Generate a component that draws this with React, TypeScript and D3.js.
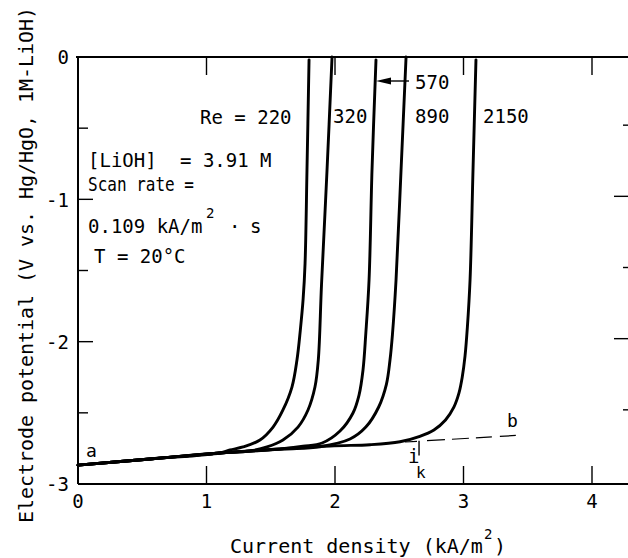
import React from "react";
import * as d3 from "d3";

// ---- data ----
type Pt = [number, number];

const xTicks = [0, 1, 2, 3, 4];
const xTickLabels = ["0", "1", "2", "3", "4"];
const yMajorTicks = [0, -1, -2, -3];
const yTickLabels = ["0", "-1", "-2", "-3"];
const yMinorTicks = [-0.5, -1.5, -2.5];
const yInnerTicks = [-0.5, -1, -1.5, -2, -2.5];

const re220: Pt[] = [
  [0, -2.867], [0.56, -2.824], [1.105, -2.782], [1.183, -2.761], [1.284, -2.74],
  [1.416, -2.691], [1.518, -2.6], [1.595, -2.48], [1.665, -2.319], [1.704, -2.129],
  [1.73, -1.92], [1.752, -1.7], [1.767, -1.45], [1.782, -0.794], [1.798, -0.02],
];
const re320: Pt[] = [
  [0, -2.867], [0.56, -2.824], [1.105, -2.782], [1.339, -2.768], [1.471, -2.74],
  [1.595, -2.691], [1.712, -2.6], [1.79, -2.48], [1.844, -2.319], [1.87, -2.129],
  [1.895, -1.6], [1.938, -0.794], [1.977, 0],
];
const re570: Pt[] = [
  [0, -2.867], [0.56, -2.824], [1.105, -2.782], [1.572, -2.754], [1.751, -2.735],
  [1.9, -2.712], [2.039, -2.628], [2.14, -2.501], [2.187, -2.375], [2.218, -2.199],
  [2.24, -1.939], [2.265, -1.567], [2.288, -0.794], [2.319, -0.02],
];
const re890: Pt[] = [
  [0, -2.867], [0.56, -2.824], [1.105, -2.782], [1.6, -2.755], [1.883, -2.738],
  [2.117, -2.684], [2.24, -2.6], [2.34, -2.459], [2.4, -2.3], [2.428, -2.129],
  [2.447, -1.95], [2.475, -1.567], [2.514, -0.794], [2.553, 0],
];
const re2150: Pt[] = [
  [0, -2.867], [0.56, -2.824], [1.105, -2.782], [1.961, -2.733], [2.272, -2.724],
  [2.506, -2.703], [2.66, -2.665], [2.77, -2.62], [2.86, -2.55], [2.925, -2.46],
  [2.965, -2.36], [2.99, -2.25], [3.012, -2.1], [3.03, -1.9], [3.051, -1.567],
  [3.074, -0.794], [3.097, -0.02],
];
const seriesList = [re220, re320, re570, re890, re2150];

const lineB: Pt[] = [[2.545, -2.705], [3.463, -2.656]];
const ikValue = 2.654;
const ikRange: Pt = [-2.71, -2.8];

// ---- layout ----
const W = 628;
const H = 558;
const x = d3.scaleLinear().domain([0, 4]).range([78, 592]);
const y = d3.scaleLinear().domain([0, -3]).range([57, 484]);
const rightX = 633;
const rightEdge = 628;

const FONT = "'DejaVu Sans Mono', monospace";

export default function App() {
  const line = d3
    .line<Pt>()
    .x((d) => x(d[0]))
    .y((d) => y(d[1]))
    .curve(d3.curveCatmullRom.alpha(0.5));
  const straight = d3
    .line<Pt>()
    .x((d) => x(d[0]))
    .y((d) => y(d[1]));

  const x0 = x(0);
  const yTop = y(0);
  const yBot = y(-3);

  return (
    <svg
      width={W}
      height={H}
      style={{ position: "absolute", left: 0, top: 0, background: "#fff" }}
      fontFamily={FONT}
    >
      <rect x={0} y={0} width={W} height={H} fill="#fff" />
      {/* frame */}
      <line x1={x0 - 2} x2={rightEdge} y1={yTop} y2={yTop} stroke="#000" strokeWidth={2} />
      <line x1={x0} x2={x0} y1={yTop} y2={yBot} stroke="#000" strokeWidth={2} />
      <line x1={x0} x2={rightEdge} y1={yBot} y2={yBot} stroke="#000" strokeWidth={2} />

      {/* x ticks top & bottom */}
      {xTicks.filter((t) => t > 0).map((t) => (
        <g key={"xt" + t}>
          <line x1={x(t)} x2={x(t)} y1={yTop} y2={yTop + 18} stroke="#000" strokeWidth={1.4} />
          <line x1={x(t)} x2={x(t)} y1={yBot} y2={yBot - 18} stroke="#000" strokeWidth={1.4} />
        </g>
      ))}
      {xTicks.map((t, i) => (
        <text key={"xl" + t} x={x(t)} y={508} fontSize={19} textAnchor="middle">
          {xTickLabels[i]}
        </text>
      ))}

      {/* y ticks left & right */}
      {yInnerTicks.map((t) => {
        const minor = yMinorTicks.includes(t);
        return (
          <g key={"yt" + t}>
            <line x1={x0} x2={x0 + (minor ? 10 : 15)} y1={y(t)} y2={y(t)} stroke="#000" strokeWidth={1.4} />
            <line x1={rightX} x2={rightX - (minor ? 10 : 19)} y1={y(t) - 3} y2={y(t) - 3} stroke="#000" strokeWidth={1.4} />
          </g>
        );
      })}
      {yMajorTicks.map((t, i) => (
        <text key={"yl" + t} x={69} y={y(t)} dy="0.38em" fontSize={19} textAnchor="end">
          {yTickLabels[i]}
        </text>
      ))}

      {/* axis titles */}
      <text x={230} y={553} fontSize={20}>
        Current density (kA/m
        <tspan x={484} y={539} fontSize={14}>2</tspan>
        <tspan x={494} y={553}>)</tspan>
      </text>
      <text
        transform="translate(33,265) rotate(-90)"
        fontSize={19.6}
        textAnchor="middle"
        textLength={516}
        lengthAdjust="spacingAndGlyphs"
      >
        Electrode potential (V vs. Hg/HgO, 1M-LiOH)
      </text>

      {/* curves */}
      {seriesList.map((s, i) => (
        <path key={"s" + i} d={line(s) || ""} fill="none" stroke="#000" strokeWidth={2.9} strokeLinejoin="round" strokeLinecap="round" />
      ))}
      <path d={straight(lineB) || ""} fill="none" stroke="#000" strokeWidth={1.2} strokeDasharray="12 10 18 7 17 7 16 8 16" />
      <line x1={x(ikValue)} x2={x(ikValue)} y1={y(ikRange[0]) - 2} y2={y(ikRange[1])} stroke="#000" strokeWidth={1.4} />

      {/* annotations */}
      <g fontSize={19}>
        <text x={200} y={124}>Re = 220</text>
        <text x={333} y={123}>320</text>
        <text x={415} y={89}>570</text>
        <text x={415} y={123}>890</text>
        <text x={483} y={123}>2150</text>
        <text x={88} y={167}>
          [LiOH]
          <tspan x={180}>= 3.91 M</tspan>
        </text>
        <text x={88} y={191} textLength={106} lengthAdjust="spacingAndGlyphs">Scan rate =</text>
        <text x={88} y={233}>
          0.109 kA/m
          <tspan x={206} y={218} fontSize={14}>2</tspan>
          <tspan x={229} y={233}>·</tspan>
          <tspan x={250} y={233}>s</tspan>
        </text>
        <text x={94} y={263}>T = 20°C</text>
        <text x={86} y={457} fontSize={18}>a</text>
        <text x={507} y={427} fontSize={18}>b</text>
        <text x={408} y={463}>i</text>
        <text x={416} y={478} fontSize={16}>k</text>
      </g>

      {/* arrow to 570 */}
      <line x1={409} x2={388} y1={81} y2={81} stroke="#000" strokeWidth={1.4} />
      <path d="M376,81 L391,77.5 L391,84.5 Z" fill="#000" />
    </svg>
  );
}
